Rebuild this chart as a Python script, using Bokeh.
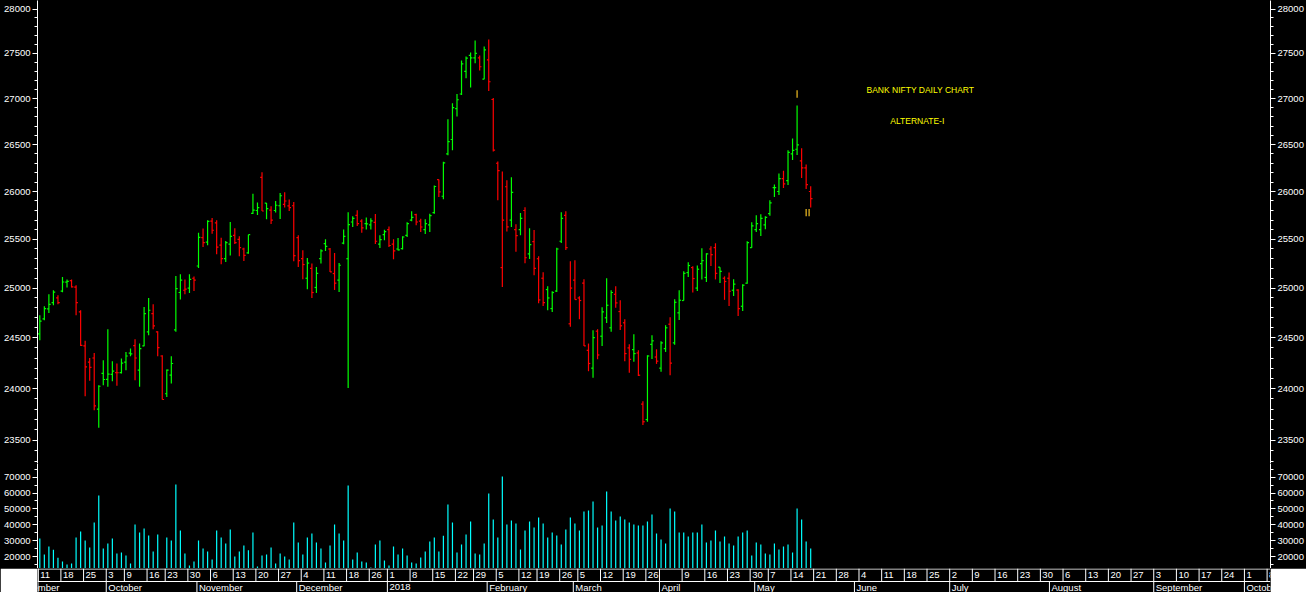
import numpy as np
import pandas as pd
from bokeh.plotting import figure
from bokeh.models import (Range1d, FixedTicker, LogAxis, LinearAxis,
                          PrintfTickFormatter, Label, ColumnDataSource)
from bokeh.layouts import column
from bokeh.core.properties import value
from bokeh.embed import file_html
from bokeh.resources import INLINE

# ---------------- data (Bank Nifty daily, 11 Sep 2017 - 18 May 2018) ----------------
OPEN = [24540, 24690, 24790, 24853, 24900, 24970, 25060, 25075, 25010, 24760,
        24420, 24260, 24300, 23800, 24148, 24090, 24140, 24157, 24157, 24260,
        24348, 24422, 24180, 24420, 24560, 24743, 24560, 24320, 23950, 24131,
        24580, 24955, 24978, 25000, 25100, 25225, 25517, 25470, 25690, 25670,
        25439, 25300, 25450, 25541, 25500, 25400, 25361, 25770, 25800, 26150,
        25877, 25805, 25800, 25850, 25865, 25848, 25850, 25517, 25300, 25100,
        25200, 25006, 25300, 25455, 25400, 25148, 25081, 25460, 25300, 25680,
        25750, 25690, 25663, 25650, 25677, 25450, 25548, 25600, 25450, 25400,
        25404, 25540, 25700, 25756, 25690, 25600, 25650, 25777, 26126, 25950,
        26400, 26555, 26889, 27050, 27300, 27477, 27450, 27450, 27214, 27428,
        26990, 26300, 25209, 26050, 25700, 25600, 25600, 25800, 25350, 25476,
        25300, 25100, 24985, 24793, 24970, 25480, 25750, 24640, 25081, 24900,
        25050, 24376, 24200, 24566, 24516, 24700, 24600, 24937, 24763, 24650,
        24400, 24383, 24350, 23850, 23700, 24434, 24310, 24200, 24393, 24636,
        24450, 24750, 24874, 25158, 25209, 25000, 25250, 25108, 25400, 25414,
        25213, 25100, 25100, 24978, 24980, 24816, 25050, 25414, 25600, 25600,
        25650, 25767, 26040, 26000, 26136, 26116, 26400, 26450, 26326, 26250,
        26000]
HIGH = [24726, 24816, 24937, 24978, 24927, 25113, 25088, 25088, 25029, 24776,
        24470, 24301, 24350, 24033, 24279, 24586, 24269, 24246, 24295, 24360,
        24393, 24486, 24443, 24809, 24900, 24836, 24566, 24327, 24188, 24317,
        25123, 25140, 25088, 25140, 25119, 25569, 25611, 25698, 25722, 25698,
        25517, 25482, 25680, 25614, 25531, 25414, 25548, 25977, 25883, 26203,
        25880, 25844, 25900, 25984, 25991, 25916, 25890, 25541, 25387, 25307,
        25250, 25215, 25397, 25500, 25410, 25359, 25256, 25602, 25782, 25741,
        25802, 25708, 25728, 25718, 25763, 25541, 25600, 25632, 25500, 25514,
        25531, 25677, 25792, 25767, 25714, 25708, 25767, 26064, 26126, 26315,
        26773, 26949, 27049, 27421, 27466, 27511, 27644, 27477, 27577, 27655,
        27005, 26318, 26213, 26118, 26150, 25656, 25773, 25834, 25614, 25596,
        25324, 25161, 25019, 24968, 25414, 25782, 25792, 25273, 25283, 24917,
        25090, 24443, 24576, 24586, 24806, 25100, 24978, 25019, 24877, 24686,
        24437, 24535, 24376, 23878, 24327, 24525, 24386, 24466, 24626, 24706,
        24887, 24978, 25171, 25263, 25223, 25230, 25407, 25356, 25428, 25459,
        25213, 25119, 25158, 25090, 24988, 25040, 25480, 25677, 25751, 25761,
        25741, 25907, 26075, 26192, 26221, 26438, 26567, 26924, 26460, 26287,
        26055]
LOW = [24476, 24676, 24749, 24826, 24836, 24958, 25006, 25006, 24726, 24420,
       23926, 24076, 23791, 23621, 24033, 24017, 24072, 24027, 24148, 24180,
       24317, 24082, 24017, 24417, 24525, 24586, 24317, 23894, 23919, 24050,
       24560, 24884, 24937, 24951, 24971, 25205, 25421, 25439, 25559, 25345,
       25243, 25266, 25334, 25452, 25324, 25276, 25351, 25763, 25752, 25795,
       25708, 25659, 25778, 25711, 25831, 25795, 25273, 25215, 25090, 24988,
       24900, 24951, 25250, 25380, 25165, 24981, 24961, 25449, 24007, 25628,
       25638, 25569, 25602, 25602, 25452, 25410, 25490, 25421, 25294, 25384,
       25394, 25524, 25687, 25646, 25576, 25555, 25576, 25767, 25942, 25918,
       26385, 26438, 26805, 27038, 27225, 27122, 27391, 27310, 27214, 27082,
       26427, 25907, 25012, 25581, 25628, 25371, 25541, 25253, 25297, 25130,
       24846, 24819, 24776, 24759, 24961, 25462, 25390, 24610, 24884, 24686,
       24420, 24170, 24105, 24288, 24420, 24649, 24560, 24800, 24579, 24269,
       24154, 24262, 24124, 23648, 23679, 24291, 24242, 24164, 24360, 24131,
       24430, 24679, 24874, 25113, 24955, 24971, 25088, 25062, 25226, 25088,
       25052, 24881, 24819, 24920, 24719, 24769, 25043, 25414, 25576, 25534,
       25605, 25744, 25942, 25963, 26036, 26068, 26334, 26388, 26143, 26026,
       25831]
CLOSE = [24666, 24793, 24836, 24958, 24853, 25062, 25068, 25012, 24853, 24425,
         24213, 24207, 23832, 24023, 24089, 24141, 24170, 24155, 24250, 24320,
         24340, 24300, 24393, 24743, 24776, 24620, 24403, 23894, 24180, 24246,
         24995, 25080, 24990, 25088, 25081, 25520, 25466, 25687, 25594, 25420,
         25300, 25466, 25530, 25466, 25414, 25334, 25548, 25805, 25831, 25795,
         25820, 25700, 25855, 25955, 25900, 25830, 25331, 25280, 25240, 25255,
         24955, 25150, 25380, 25428, 25165, 25050, 25233, 25531, 25653, 25717,
         25663, 25618, 25660, 25691, 25480, 25497, 25580, 25436, 25380, 25390,
         25524, 25663, 25728, 25680, 25628, 25663, 25746, 26053, 25997, 26304,
         26532, 26900, 26987, 27384, 27447, 27451, 27500, 27351, 27540, 27185,
         26441, 26221, 25700, 25629, 25990, 25538, 25717, 25310, 25445, 25200,
         24880, 24853, 24900, 24955, 25400, 25717, 25414, 25000, 24884, 24874,
         24420, 24246, 24503, 24330, 24760, 24826, 24955, 24850, 24620, 24344,
         24287, 24344, 24131, 23679, 24320, 24470, 24269, 24450, 24600, 24250,
         24856, 24877, 25150, 25230, 25097, 25192, 25280, 25350, 25341, 25150,
         25170, 25067, 24968, 25040, 24793, 25029, 25466, 25640, 25663, 25717,
         25728, 25880, 26040, 26136, 26080, 26417, 26438, 26497, 26250, 26073,
         25925]
VOLUME = [31340, 21260, 26300, 24200, 19160, 16850, 14960, 15590, 31970, 35750,
          30080, 25670, 41420, 58430, 25040, 28190, 31340, 21890, 22520, 20630,
          15590, 40160, 35120, 37640, 33230, 23150, 33860, 4000, 31970, 30080,
          65360, 36380, 21890, 14330, 16850, 30080, 25040, 23150, 18110, 36380,
          31970, 28190, 37010, 20000, 23150, 26930, 23990, 35120, 13700, 20630,
          21260, 25670, 15590, 21890, 20000, 18110, 41420, 28820, 21260, 31970,
          34490, 28820, 25040, 16220, 26930, 40160, 34490, 30080, 64730, 18110,
          22520, 16850, 16220, 13070, 27560, 30080, 17480, 14330, 26300, 21260,
          25040, 20630, 16220, 15590, 19370, 23150, 29450, 31970, 23150, 33020,
          52760, 41420, 22520, 27560, 33860, 42050, 21890, 21260, 28190, 59690,
          43310, 31970, 70400, 40160, 42680, 40790, 24410, 36380, 42050, 38270,
          44570, 40790, 31970, 35120, 33230, 27560, 37010, 44570, 40790, 36380,
          48350, 48980, 54650, 38270, 39530, 60950, 48350, 42680, 45200, 43310,
          41420, 40160, 39530, 39530, 42050, 46460, 34490, 30710, 28190, 50240,
          48350, 35120, 35120, 32600, 35120, 35120, 40160, 28820, 30080, 36380,
          29450, 32600, 28190, 26930, 32600, 35120, 36380, 20630, 28820, 27560,
          21890, 21260, 28190, 24410, 26300, 27560, 22520, 50240, 43310, 29450,
          25040]

FIRST_BAR = "2017-09-11"
CAL_START, CAL_END = "2017-09-01", "2018-10-12"
HOLIDAYS = ["2017-10-02", "2017-10-20", "2017-12-25", "2018-01-26", "2018-02-13",
            "2018-03-02", "2018-03-29", "2018-03-30", "2018-05-01"]
UNLABELLED_WEEKS = ["2018-04-02"]

PRICE_TICKS = list(range(23500, 28001, 500))
PRICE_MINOR = list(range(23300, 28101, 100))
VOL_TICKS = list(range(20000, 70001, 10000))
VOL_MINOR = list(range(15000, 80000, 5000))

TITLE_LINES = ["BANK NIFTY DAILY CHART", "ALTERNATE-I"]
TITLE_POS = [(194.2, 27089), (193.5, 26750)]

# small gold annotation marks near the end of the series
MARK_POS = [167, 169, 169.65]
MARK_LO = [27010, 25740, 25740]
MARK_HI = [27090, 25815, 25815]

# ---------------- calendar / positions ----------------
cal = pd.bdate_range(CAL_START, CAL_END)
cal = cal[~cal.isin(pd.to_datetime(HOLIDAYS))]
idx0 = cal.get_loc(pd.Timestamp(FIRST_BAR))
pos = np.arange(len(cal)) - idx0
n = len(CLOSE)
bx = pos[idx0:idx0 + n].astype(float)

colors = []
for i in range(n):
    up = i == 0 or CLOSE[i] >= CLOSE[i - 1]
    colors.append("#00FF00" if up else "#FF0000")

FONT = "Liberation Sans"
W = 1306
X0, X1 = -0.51, 271.4
xr = Range1d(X0, X1)

common = dict(width=W, x_range=xr, output_backend="svg", toolbar_location=None,
              min_border_left=37, min_border_right=36, min_border_top=0,
              min_border_bottom=0, background_fill_color="black",
              outline_line_color=None, x_axis_location=None)


def style_axis(ax, ticks, minor):
    ax.ticker = FixedTicker(ticks=ticks, minor_ticks=minor)
    ax.formatter = PrintfTickFormatter(format="%d")
    ax.axis_line_color = "white"
    ax.major_tick_line_color = "white"
    ax.minor_tick_line_color = "white"
    ax.major_tick_out = 5
    ax.major_tick_in = 0
    ax.minor_tick_out = 3
    ax.minor_tick_in = 0
    ax.major_label_text_color = "white"
    ax.major_label_text_font = FONT
    ax.major_label_text_font_size = "9.5px"
    ax.major_label_standoff = 2


# ---------------- price panel ----------------
p = figure(height=463, y_range=Range1d(23281, 28097), y_axis_type="log",
           border_fill_color="black", **common)
p.grid.visible = False
style_axis(p.yaxis[0], PRICE_TICKS, PRICE_MINOR)
ra = LogAxis()
style_axis(ra, PRICE_TICKS, PRICE_MINOR)
p.add_layout(ra, "right")

src = ColumnDataSource(dict(x=bx, xl=bx - 0.4, xr=bx + 0.4, o=OPEN, h=HIGH,
                            l=LOW, c=CLOSE, col=colors))
p.segment(x0="x", y0="l", x1="x", y1="h", line_color="col", line_width=1.2, source=src)
p.segment(x0="xl", y0="o", x1="x", y1="o", line_color="col", line_width=1.2, source=src)
p.segment(x0="x", y0="c", x1="xr", y1="c", line_color="col", line_width=1.2, source=src)

p.segment(x0=MARK_POS, y0=MARK_LO, x1=MARK_POS, y1=MARK_HI,
          line_color="#E0B020", line_width=1.3)

p.text(x=[t[0] for t in TITLE_POS], y=[t[1] for t in TITLE_POS], text=TITLE_LINES,
       text_color="#FFFF00", text_font=value(FONT), text_font_size=value("8.5px"),
       text_align="center", text_baseline="middle")

# ---------------- volume panel ----------------
pv = figure(height=105, y_range=Range1d(12440, 78590),
            border_fill_color="black", **common)
pv.grid.visible = False
style_axis(pv.yaxis[0], VOL_TICKS, VOL_MINOR)
rv = LinearAxis()
style_axis(rv, VOL_TICKS, VOL_MINOR)
pv.add_layout(rv, "right")
pv.segment(x0=bx, y0=[0] * n, x1=bx, y1=VOLUME, line_color="#00FFFF", line_width=1.2)

for xs in (-36, 1234):
    pv.add_layout(Label(x=xs, y=0, x_units="screen", y_units="screen",
                        text="x100", text_color="white",
                        text_font=FONT, text_font_size="7px",
                        text_baseline="bottom",
                        background_fill_color="black",
                        border_line_color="white", padding=1))

# ---------------- date rows ----------------
pdt = figure(height=24, y_range=Range1d(0, 24), y_axis_location=None,
             border_fill_color="white", **common)
pdt.grid.visible = False

wk = cal.to_period("W")
mo = cal.to_period("M")
wk_new = np.r_[True, wk[1:] != wk[:-1]]
mo_new = np.r_[True, mo[1:] != mo[:-1]]
wx = pos[wk_new] - 0.35
wlab = [("" if d.strftime("%Y-%m-%d") in UNLABELLED_WEEKS else str(d.day))
        for d in cal[wk_new]]
mx = pos[mo_new] - 0.35
mlab = [(str(d.year) if d.month == 1 else d.strftime("%B")) for d in cal[mo_new]]

pdt.segment(x0=[X0, X0], y0=[23.5, 11], x1=[X1, X1], y1=[23.5, 11],
            line_color="white", line_width=1)
pdt.segment(x0=[X0 + 0.1], y0=[0], x1=[X0 + 0.1], y1=[24],
            line_color="white", line_width=1)
pdt.segment(x0=wx, y0=[11] * len(wx), x1=wx, y1=[24] * len(wx),
            line_color="white", line_width=1)
pdt.segment(x0=mx, y0=[0] * len(mx), x1=mx, y1=[11] * len(mx),
            line_color="white", line_width=1)
pdt.text(x=wx, y=[17.3] * len(wx), text=wlab, x_offset=2, text_color="white",
         text_font=value(FONT), text_font_size=value("9.5px"),
         text_align="left", text_baseline="middle")
pdt.text(x=mx, y=[5.3] * len(mx), text=mlab, x_offset=2, text_color="white",
         text_font=value(FONT), text_font_size=value("9.5px"),
         text_align="left", text_baseline="middle")

layout = column(p, pv, pdt, spacing=0, styles={"background-color": "black"})
open("out.html", "w").write(file_html(layout, INLINE))
